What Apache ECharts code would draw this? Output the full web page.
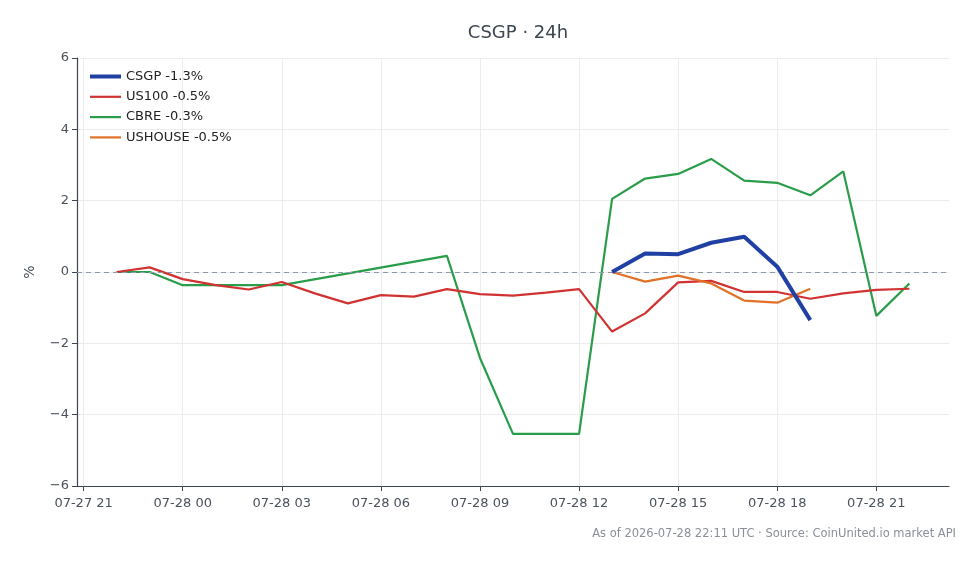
<!DOCTYPE html>
<html>
<head>
<meta charset="utf-8">
<title>CSGP · 24h</title>
<script src="https://cdn.jsdelivr.net/npm/echarts@6/dist/echarts.min.js"></script>
<style>
  html, body { margin: 0; padding: 0; background: #fff; }
  #chart { width: 980px; height: 564px; }
</style>
</head>
<body>
<div id="chart"></div>
<script>
// hourly samples, 07-27 22:00 .. 07-28 22:00
const times = [
  '07-27 22', '07-27 23', '07-28 00', '07-28 01', '07-28 02', '07-28 03', '07-28 04',
  '07-28 05', '07-28 06', '07-28 07', '07-28 08', '07-28 09', '07-28 10', '07-28 11',
  '07-28 12', '07-28 13', '07-28 14', '07-28 15', '07-28 16', '07-28 17', '07-28 18',
  '07-28 19', '07-28 20', '07-28 21', '07-28 22'
]
const csgp = [null, null, null, null, null, null, null, null, null, null, null, null, null, null,
  null, 0, 0.52, 0.50, 0.82, 0.99, 0.15, -1.35, null, null, null]
const us100 = [0, 0.13, -0.20, -0.37, -0.49, -0.28, -0.60, -0.88, -0.65, -0.69, -0.48, -0.62, -0.66, -0.58,
  -0.48, -1.67, -1.16, -0.29, -0.25, -0.56, -0.56, -0.75, -0.60, -0.50, -0.47]
const cbre = [0, 0, -0.37, -0.37, -0.37, -0.37, null, null, null, null, 0.45, -2.41, -4.54, -4.54,
  -4.54, 2.05, 2.62, 2.75, 3.17, 2.56, 2.50, 2.15, 2.82, -1.23, -0.32]
const ushouse = [null, null, null, null, null, null, null, null, null, null, null, null, null, null,
  null, 0, -0.27, -0.10, -0.32, -0.80, -0.86, -0.47, null, null, null]
const seriesNames = ['CSGP -1.3%', 'US100 -0.5%', 'CBRE -0.3%', 'USHOUSE -0.5%']
const xTicks = ['07-27 21', '07-28 00', '07-28 03', '07-28 06', '07-28 09', '07-28 12', '07-28 15', '07-28 18', '07-28 21']
const yTicks = [-6, -4, -2, 0, 2, 4, 6]

// hours since 07-27 00:00
function toHours(label) {
  const day = parseInt(label.slice(3, 5), 10)
  const hour = parseInt(label.slice(6, 8), 10)
  return (day - 27) * 24 + hour
}
function fromHours(h) {
  const day = 27 + Math.floor(h / 24)
  const hour = h % 24
  return '07-' + day + ' ' + String(hour).padStart(2, '0')
}

const xs = times.map(toHours)
const tickHours = xTicks.map(toHours)
const pairs = vals => vals.map((v, i) => [xs[i], v])

const colors = ['#2140a3', '#d13232', '#2a9d4a', '#e07126']
const widths = [4, 2.2, 2.2, 2.2]
const FONT = 'DejaVu Sans'

const chart = echarts.init(document.getElementById('chart'))

chart.setOption({
  backgroundColor: '#fff',
  animation: false,
  textStyle: { fontFamily: FONT },
  title: {
    text: 'CSGP · 24h',
    left: 513,
    textAlign: 'center',
    top: 19,
    textStyle: { fontFamily: FONT, fontSize: 18, fontWeight: 'normal', color: '#3c4650' }
  },
  graphic: [{
    type: 'text',
    right: 24,
    top: 528,
    style: {
      text: 'As of 2026-07-28 22:11 UTC · Source: CoinUnited.io market API',
      fontFamily: FONT,
      fontSize: 11.5,
      fill: '#8a9099'
    }
  }],
  legend: {
    orient: 'vertical',
    left: 85,
    top: 65,
    itemWidth: 31,
    itemHeight: 14,
    itemGap: 7.3,
    textStyle: { fontFamily: FONT, fontSize: 13, color: '#222' },
    data: seriesNames.map((name, i) => ({
      name,
      icon: 'path://M0,0H31V' + widths[i] + 'H0Z',
      itemStyle: { color: colors[i] }
    }))
  },
  grid: { left: 77, right: 31, top: 58, bottom: 78 },
  xAxis: {
    type: 'value',
    min: 20.8,
    max: 47.2,
    axisLine: { onZero: false, lineStyle: { color: '#3b4450', width: 1.2 } },
    axisTick: { customValues: tickHours, length: 5, lineStyle: { color: '#3b4450' } },
    axisLabel: {
      customValues: tickHours,
      formatter: v => fromHours(Math.round(v)),
      fontFamily: FONT, fontSize: 13, color: '#4a525c', margin: 11
    },
    splitLine: { show: true, lineStyle: { color: '#ececec' } }
  },
  yAxis: {
    type: 'value',
    min: -6,
    max: 6,
    interval: 2,
    name: '%',
    nameLocation: 'middle',
    nameGap: 40,
    nameTextStyle: { fontFamily: FONT, fontSize: 14, color: '#4a525c' },
    axisLine: { show: true, lineStyle: { color: '#3b4450', width: 1.2 } },
    axisTick: { show: true, length: 5, lineStyle: { color: '#3b4450' } },
    axisLabel: {
      formatter: v => (v < 0 ? '\u2212' + Math.abs(v) : String(v)),
      fontFamily: FONT, fontSize: 13, color: '#4a525c', margin: 8
    },
    splitLine: { show: true, lineStyle: { color: '#ececec' } }
  },
  series: [
    {
      name: seriesNames[0], type: 'line', data: pairs(csgp), connectNulls: true,
      symbol: 'none', color: colors[0], lineStyle: { width: widths[0], color: colors[0] }, z: 5,
      markLine: {
        silent: true, symbol: 'none', label: { show: false },
        lineStyle: { type: [5, 4], color: '#8c9aab', width: 1 },
        data: [{ yAxis: yTicks[3] }]
      }
    },
    {
      name: seriesNames[1], type: 'line', data: pairs(us100), connectNulls: true,
      symbol: 'none', color: colors[1], lineStyle: { width: widths[1], color: colors[1] }, z: 3
    },
    {
      name: seriesNames[2], type: 'line', data: pairs(cbre), connectNulls: true,
      symbol: 'none', color: colors[2], lineStyle: { width: widths[2], color: colors[2] }, z: 2
    },
    {
      name: seriesNames[3], type: 'line', data: pairs(ushouse), connectNulls: true,
      symbol: 'none', color: colors[3], lineStyle: { width: widths[3], color: colors[3] }, z: 4
    }
  ]
})
</script>
</body>
</html>
